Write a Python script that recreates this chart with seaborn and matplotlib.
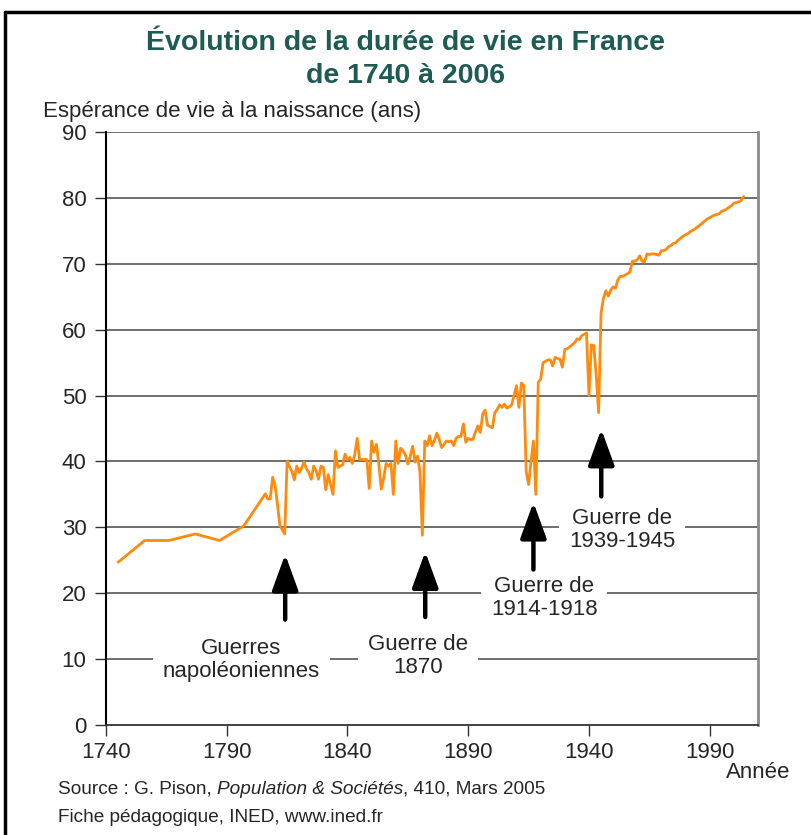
import matplotlib
matplotlib.use("Agg")
import matplotlib.pyplot as plt
import seaborn as sns
import pandas as pd
from matplotlib.lines import Line2D

# Espérance de vie à la naissance, France
annees_anciennes = [1745, 1756, 1766, 1777, 1787, 1797]
esperance_anciennes = [24.7, 28.0, 28.0, 29.0, 28.0, 30.2]

annees_annuelles = list(range(1806, 2005))
esperance_annuelle = [
    35.1, 34.3, 34.3, 37.6, 36.4, 33.5, 30.3, 29.6, 29.0, 40.0,  # 1806-1815
    39.2, 38.5, 37.2, 39.3, 38.3, 39.0, 39.9, 38.9, 38.3, 37.3,  # 1816-1825
    39.3, 38.6, 37.3, 39.3, 39.1, 35.7, 38.0, 36.5, 35.0, 41.6,  # 1826-1835
    39.1, 39.3, 39.5, 41.1, 40.3, 40.6, 39.7, 41.0, 43.5, 40.3,  # 1836-1845
    40.3, 40.3, 40.3, 35.9, 43.1, 41.4, 42.6, 39.5, 35.8, 37.5,  # 1846-1855
    39.7, 39.3, 39.7, 35.0, 43.1, 39.7, 42.0, 41.6, 41.0, 39.6,  # 1856-1865
    40.8, 42.3, 39.9, 40.8, 38.5, 28.8, 43.1, 42.4, 43.9, 42.4,  # 1866-1875
    43.2, 44.3, 43.3, 42.1, 42.6, 43.1, 43.0, 43.1, 42.4, 43.5,  # 1876-1885
    43.8, 43.8, 45.7, 42.9, 43.5, 43.3, 43.4, 44.5, 45.4, 44.4,  # 1886-1895
    47.2, 47.8, 45.5, 45.3, 45.1, 47.4, 47.9, 48.6, 48.2, 48.7,  # 1896-1905
    48.1, 48.3, 48.6, 50.1, 51.5, 48.2, 51.9, 51.5, 38.5, 36.5,  # 1906-1915
    40.0, 43.1, 35.0, 52.0, 52.5, 55.0, 55.2, 55.4, 55.4, 54.5,  # 1916-1925
    55.8, 55.6, 55.5, 54.3, 57.0, 57.1, 57.4, 57.7, 58.0, 58.6,  # 1926-1935
    58.5, 59.1, 59.3, 59.5, 50.0, 57.7, 57.6, 53.0, 47.4, 62.5,  # 1936-1945
    64.8, 65.9, 65.1, 66.0, 66.5, 66.3, 67.6, 68.1, 68.1, 68.3,  # 1946-1955
    68.5, 68.8, 70.4, 70.4, 70.6, 71.2, 70.4, 70.3, 71.5, 71.4,  # 1956-1965
    71.5, 71.5, 71.4, 71.3, 72.0, 72.0, 72.2, 72.6, 72.8, 73.1,  # 1966-1975
    73.2, 73.6, 73.9, 74.2, 74.4, 74.6, 74.9, 75.1, 75.3, 75.6,  # 1976-1985
    75.9, 76.2, 76.5, 76.8, 77.0, 77.2, 77.4, 77.5, 77.6, 78.0,  # 1986-1995
    78.1, 78.3, 78.6, 78.8, 79.2, 79.3, 79.4, 79.6, 80.2,        # 1996-2004
]

y_ticks = list(range(0, 91, 10))
x_ticks = list(range(1740, 1991, 50))

# annotations: texte, position du texte, pointe et queue de la flèche
guerres = ["Guerres\nnapoléoniennes", "Guerre de\n1870", "Guerre de\n1914-1918", "Guerre de\n1939-1945"]
texte_x = [1796.0, 1869.1, 1921.5, 1953.8]
texte_y = [9.9, 10.5, 19.3, 29.6]
fleche_x = [1814.2, 1872.2, 1917.0, 1945.1]
fleche_haut = [25.9, 26.3, 33.8, 44.9]
fleche_bas = [16.0, 16.4, 23.6, 34.7]

df = pd.DataFrame({
    "annee": annees_anciennes + annees_annuelles,
    "esperance": esperance_anciennes + esperance_annuelle,
})

sns.set_style("white")
plt.rcParams["font.family"] = ["Liberation Sans", "DejaVu Sans"]

W, H = 811, 835
fig = plt.figure(figsize=(W / 100, H / 100), dpi=100)
ax = fig.add_axes([106 / W, (H - 725) / H, (758 - 106) / W, (725 - 132) / H])

for v in y_ticks[1:]:
    ax.axhline(v, color="#555555", lw=1.2, zorder=0.5)

sns.lineplot(data=df, x="annee", y="esperance", color="#FF8A0C", lw=2,
             estimator=None, ax=ax, zorder=2)

ax.set_xlim(1740, 2010)
ax.set_ylim(0, 90)
ax.set_xticks(x_ticks)
ax.set_yticks(y_ticks)
ax.set_xlabel("")
ax.set_ylabel("")
ax.tick_params(axis="both", which="major", bottom=True, left=True, direction="out",
               length=8, width=1, color="#333333", labelsize=16)
ax.tick_params(axis="y", pad=6)
ax.tick_params(axis="x", pad=4)

ax.spines["top"].set_visible(False)
ax.spines["left"].set_color("black")
ax.spines["left"].set_linewidth(1.5)
ax.spines["bottom"].set_color("#333333")
ax.spines["bottom"].set_linewidth(1.3)
ax.spines["right"].set_color("#8a8a8a")
ax.spines["right"].set_linewidth(2)

for txt, tx, ty, fx, fh, fb in zip(guerres, texte_x, texte_y, fleche_x, fleche_haut, fleche_bas):
    ax.text(tx, ty, txt, ha="center", va="center", fontsize=16, linespacing=1.15,
            zorder=3, bbox=dict(facecolor="white", edgecolor="none", pad=7))
    ax.annotate("", xy=(fx, fh), xytext=(fx, fb),
                arrowprops=dict(arrowstyle="-|>,head_length=2.2,head_width=0.8",
                                lw=3.2, color="black", shrinkA=0, shrinkB=0),
                zorder=3)

# titres et textes
couleur_titre = "#1E5B53"
fig.text(405 / W, 1 - 43 / H, "Évolution de la durée de vie en France", ha="center",
         va="center", fontsize=20.5, fontweight="bold", color=couleur_titre)
fig.text(405 / W, 1 - 76 / H, "de 1740 à 2006", ha="center", va="center",
         fontsize=20.5, fontweight="bold", color=couleur_titre)
fig.text(43 / W, 1 - 111 / H, "Espérance de vie à la naissance (ans)", ha="left",
         va="center", fontsize=16)
fig.text(758 / W, 1 - 773 / H, "Année", ha="center", va="center", fontsize=16)

# ligne source avec un morceau en italique
renderer = fig.canvas.get_renderer()
x0 = 58
for morceau, style in [("Source : G. Pison, ", "normal"),
                       ("Population & Sociétés", "italic"),
                       (", 410, Mars 2005", "normal")]:
    t = fig.text(x0 / W, 1 - 789 / H, morceau, ha="left", va="center",
                 fontsize=13.7, style=style)
    x0 += t.get_window_extent(renderer).width
fig.text(58 / W, 1 - 818 / H, "Fiche pédagogique, INED, www.ined.fr", ha="left",
         va="center", fontsize=13.7)

# cadre de la figure
fig.add_artist(Line2D([5 / W, 5 / W], [0, 1 - 12 / H], color="black", lw=2.5))
fig.add_artist(Line2D([5 / W, 1], [1 - 12 / H, 1 - 12 / H], color="black", lw=2.5))

fig.savefig("out.png", dpi=100)
